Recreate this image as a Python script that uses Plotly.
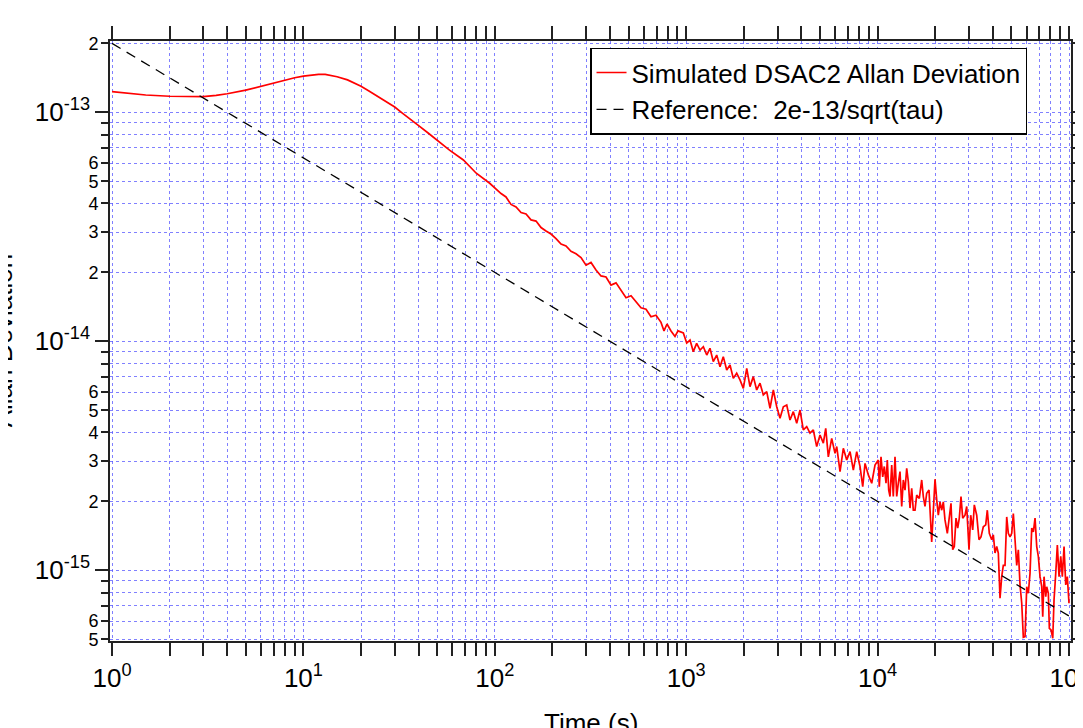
import plotly.graph_objects as go

# ---------------- data ----------------
ADEV_UNIT = 1e-15   # adev values below are in units of 1e-15

tau_smooth = [1, 1.2, 1.5, 2, 2.5, 3, 3.5, 4, 5, 6, 7, 8, 9, 10, 11, 12, 13, 14, 15,
              17, 20, 22, 25, 28, 30, 33, 36, 40, 45, 50, 58, 68.5, 80, 94]
adev_smooth = [123, 121, 119, 117.5, 116.8, 117, 118.5, 120.5, 125, 130, 134.5, 138.5,
               141.5, 144, 145.5, 146.5, 146.5, 145, 143, 138.5, 130, 124, 116, 109.5,
               105.5, 99, 94, 87.5, 81, 75.5, 68.4, 61.9, 54.2, 49.0]

tau_mid = [100, 107.8, 114.4, 121.5, 129.1, 137.1, 145.6, 154.6, 164.2, 174.4, 185.1,
           196.6, 208.8, 221.8, 235.5, 250.1, 265.6, 282.1, 299.6, 318.1, 337.8, 358.8,
           381.1, 404.7, 429.8, 456.5, 484.8, 514.8, 546.7, 580.6, 616.6, 654.8, 695.4,
           738.5, 765.6, 793.7, 832.9, 874.0, 906.2]
adev_mid = [46.6, 44.2, 42.7, 39.6, 38.6, 36.5, 36.0, 33.9, 33.5, 31.4, 30.3, 29.4, 28.1,
            26.6, 26.1, 24.7, 24.1, 23.2, 21.5, 22.1, 20.5, 19.3, 19.1, 17.6, 18.0, 16.6,
            15.5, 15.8, 14.8, 14.0, 13.8, 12.8, 13.0, 12.1, 11.1, 11.9, 11.1, 10.5, 11.1]

tau_noisy1 = [966, 1006, 1047, 1089, 1134, 1181, 1229, 1280, 1331, 1385, 1443, 1502, 1562,
              1628, 1694, 1762, 1835, 1910, 1988, 2071, 2154, 2242, 2335, 2430, 2528, 2634,
              2741, 2852, 2971, 3091, 3217, 3351, 3486, 3628, 3779, 3932, 4091, 4262, 4435,
              4615, 4806, 5002, 5205, 5357, 5527, 5757, 5991, 6115, 6363, 6621, 6897, 7177,
              7467, 7778, 8093, 8361, 8597, 8944, 9316, 9692, 10085]
adev_noisy1 = [10.87, 9.83, 10.13, 9.01, 9.80, 9.16, 9.47, 8.71, 9.32, 8.15, 8.71, 7.75,
               8.57, 7.49, 7.88, 6.89, 7.25, 6.78, 6.23, 7.62, 6.34, 7.01, 6.13, 6.56, 5.83,
               6.03, 5.10, 6.13, 5.18, 4.61, 5.18, 5.27, 4.53, 4.93, 4.39, 5.01, 4.10, 4.24,
               3.97, 4.10, 3.47, 3.90, 3.59, 4.17, 3.13, 3.77, 3.24, 3.47, 2.70, 3.41, 3.03,
               3.30, 2.74, 3.30, 2.84, 2.32, 2.93, 2.61, 2.40, 2.88, 3.03]

tau_noisy2 = [10207, 10418, 10632, 10839, 11063, 11238, 11429, 11609, 11849, 12078, 12328,
              12583, 12828, 13092, 13363, 13624, 13906, 14191, 14468, 14767, 15072, 15364,
              15682, 16006, 16515, 16997, 17330, 17685, 18051, 18557, 19170, 19544, 19949,
              20362, 20756, 21185, 21623, 22045, 22496, 23131, 23692, 24183, 24682, 25160,
              25680, 26211, 26718, 27271, 27836, 28617, 29209, 30028, 30649, 31398, 32005,
              32945, 33869, 34690, 35664, 36712, 37423, 38337, 39458, 40229, 41062, 41911,
              42722, 43606, 44509, 45370, 46309, 47268, 48182, 49179, 50197, 51177, 52237,
              53308, 54349, 55474, 56622, 57716, 58911, 60131, 61305, 62563, 63858, 65105,
              66453, 67815, 69140, 70571, 72033, 72900, 74052, 75585, 76496, 77990, 78930,
              80563, 82231, 83513, 85242, 86906, 88707, 90526, 92294, 94205, 96155, 97971,
              100000]
adev_noisy2 = [2.32, 3.13, 2.56, 2.84, 2.40, 3.03, 2.24, 2.10, 2.88, 2.10, 3.13, 2.10, 2.40,
               2.70, 1.90, 2.48, 2.24, 2.79, 2.44, 1.87, 2.28, 1.83, 1.83, 2.13, 2.06, 2.48,
               2.10, 1.90, 2.17, 2.24, 1.33, 1.71, 2.50, 2.03, 1.74, 1.99, 1.83, 1.99, 1.66,
               1.45, 1.71, 1.96, 1.23, 1.27, 1.69, 1.53, 1.69, 2.10, 1.69, 1.74, 1.90, 1.23,
               1.74, 1.50, 1.93, 1.74, 1.36, 1.40, 1.55, 1.58, 1.83, 1.45, 1.36, 1.43, 1.19,
               1.27, 1.19, 0.755, 0.938, 1.05, 1.05, 1.71, 1.45, 1.40, 1.45, 1.77, 1.36, 1.05,
               1.23, 0.863, 0.718, 0.510, 0.513, 0.848, 0.794, 0.970, 1.53, 1.47, 1.69, 1.27,
               1.15, 0.938, 0.848, 0.627, 0.938, 0.767, 0.848, 0.794, 0.558, 0.549, 0.505,
               0.742, 0.970, 1.29, 0.938, 1.15, 0.938, 1.27, 0.863, 0.938, 0.718]

ref_tau = [1, 1e5]
ref_adev = [2.0e-13, 6.32e-16]

series_name = "Simulated DSAC2 Allan Deviation"
ref_name = "Reference:\u00a0 2e-13/sqrt(tau)"

x_major = [1, 10, 100, 1000, 1e4, 1e5]
x_major_text = ["10<sup>0</sup>", "10<sup>1</sup>", "10<sup>2</sup>",
                "10<sup>3</sup>", "10<sup>4</sup>", "10<sup>5</sup>"]
y_major = [1e-13, 1e-14, 1e-15]
y_major_text = ["10<sup>-13</sup>", "10<sup>-14</sup>", "10<sup>-15</sup>"]
y_minor_mult = {-13: [2], -14: [2, 3, 4, 5, 6, 7, 8, 9],
                -15: [2, 3, 4, 5, 6, 7, 8, 9], -16: [5, 6, 7, 8, 9]}
y_labeled_mult = [2, 3, 4, 5, 6]

# ---------------- build ----------------
tau = tau_smooth + tau_mid + tau_noisy1 + tau_noisy2
adev = [v * ADEV_UNIT for v in adev_smooth + adev_mid + adev_noisy1 + adev_noisy2]

x_minor = [m * 10 ** d for d in range(5) for m in range(2, 10)]
y_minor, y_lab_vals, y_lab_text = [], [], []
for dec, mults in y_minor_mult.items():
    for m in mults:
        v = m * 10.0 ** dec
        y_minor.append(v)
        if m in y_labeled_mult:
            y_lab_vals.append(v)
            y_lab_text.append(str(m))

FONT = "Liberation Sans, Arial, Helvetica, sans-serif"
AX = "#222222"
GRID = "rgba(85,85,255,0.75)"

fig = go.Figure()
fig.add_trace(go.Scatter(x=tau, y=adev, mode="lines", name=series_name,
                         line=dict(color="#ff0000", width=1.7)))
fig.add_trace(go.Scatter(x=ref_tau, y=ref_adev, mode="lines", name=ref_name,
                         line=dict(color="black", width=1.3, dash="10px,7px")))
fig.add_trace(go.Scatter(x=[], y=[], yaxis="y2", showlegend=False, hoverinfo="skip"))

x_range = [-0.0105, 5.0104]
y_range = [-15.3087, -12.6886]

# the page body adds an 8px offset, so the figure is 8px smaller than the window
fig.update_layout(
    width=1075, height=720,
    margin=dict(l=102, r=12, t=33, b=87, autoexpand=False),
    paper_bgcolor="white", plot_bgcolor="white",
    font=dict(family=FONT, color="black"),
    xaxis=dict(type="log", range=x_range, tickmode="array", tickvals=x_major,
               ticktext=x_major_text, ticks="outside", ticklen=13, tickwidth=1.5,
               tickcolor=AX, mirror="allticks", showline=True, linecolor=AX,
               linewidth=1.5, zeroline=False, automargin=False,
               ticklabeloverflow="allow",
               tickfont=dict(size=26, color="black"),
               showgrid=True, gridcolor=GRID, griddash="dot", gridwidth=1,
               minor=dict(tickmode="array", tickvals=x_minor, ticks="outside",
                          ticklen=6, tickwidth=1.5, tickcolor=AX, showgrid=True,
                          gridcolor=GRID, griddash="dot", gridwidth=1)),
    yaxis=dict(type="log", range=y_range, tickmode="array", tickvals=y_major,
               ticktext=y_major_text, ticks="outside", ticklen=13, tickwidth=1.5,
               tickcolor=AX, mirror="allticks", showline=True, linecolor=AX,
               linewidth=1.5, zeroline=False, automargin=False,
               ticklabeloverflow="allow",
               tickfont=dict(size=26, color="black"),
               showgrid=True, gridcolor=GRID, griddash="dot", gridwidth=1,
               minor=dict(tickmode="array", tickvals=y_minor, ticks="outside",
                          ticklen=7, tickwidth=1.5, tickcolor=AX, showgrid=True,
                          gridcolor=GRID, griddash="dot", gridwidth=1)),
    yaxis2=dict(type="log", range=y_range, overlaying="y", side="left", anchor="x",
                tickmode="array", tickvals=y_lab_vals, ticktext=y_lab_text,
                ticks="outside", ticklen=7, tickcolor="rgba(0,0,0,0)",
                showgrid=False, showline=False, zeroline=False, automargin=False,
                ticklabeloverflow="allow",
                tickfont=dict(size=18, color="black")),
    legend=dict(x=0.4995, y=0.989, xanchor="left", yanchor="top",
                bgcolor="white", bordercolor="black", borderwidth=1.5,
                font=dict(size=26, color="black", family=FONT)),
    showlegend=True,
    annotations=[
        dict(text="Allan Deviation", xref="paper", yref="paper", x=-0.111, y=0.5,
             textangle=-90, showarrow=False, xanchor="center", yanchor="middle",
             font=dict(size=26, color="black", family=FONT)),
        dict(text="Time (s)", xref="paper", yref="paper", x=0.5, y=-0.1367,
             showarrow=False, xanchor="center", yanchor="middle",
             font=dict(size=26, color="black", family=FONT)),
    ],
)

fig.write_html("out.html")
